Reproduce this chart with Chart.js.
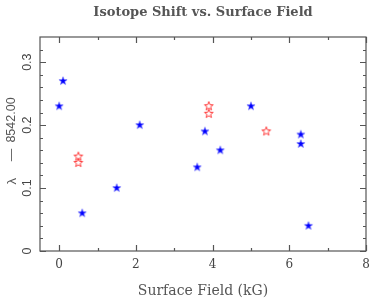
<!DOCTYPE html>
<html>
<head>
<meta charset="utf-8">
<script src="https://cdn.jsdelivr.net/npm/chart.js@4"></script>
<style>
  html, body { margin: 0; padding: 0; background: #fff; }
  #wrap { width: 371px; height: 300px; }
</style>
</head>
<body>
<div id="wrap"><canvas id="chart" width="371" height="300"></canvas></div>
<script>
// measured points, blue = filled stars, red = open stars
const blueX = [0, 0.1, 0.6, 1.5, 2.1, 3.6, 3.8, 4.2, 5.0, 6.3, 6.3, 6.5];
const blueY = [0.23, 0.27, 0.06, 0.1, 0.2, 0.133, 0.19, 0.16, 0.23, 0.185, 0.17, 0.04];
const redX = [0.5, 0.5, 3.9, 3.9, 5.4];
const redY = [0.15, 0.14, 0.23, 0.218, 0.19];

const xTicks = [0, 2, 4, 6, 8];
const xMinor = [1, 3, 5, 7];
const yTicks = [0, 0.1, 0.2, 0.3];
const yMinor = [0.02, 0.04, 0.06, 0.08, 0.12, 0.14, 0.16, 0.18, 0.22, 0.24, 0.26, 0.28, 0.32];

const axisColor = '#555';
const textColor = '#444';

function starImage(r, fill, stroke, lw) {
  const s = Math.ceil(2 * r + 2 * lw + 2);
  const c = document.createElement('canvas');
  c.width = s; c.height = s;
  const g = c.getContext('2d');
  g.beginPath();
  for (let i = 0; i < 10; i++) {
    const rad = i % 2 === 0 ? r : r * 0.42;
    const a = -Math.PI / 2 + i * Math.PI / 5;
    const px = s / 2 + rad * Math.cos(a), py = s / 2 + rad * Math.sin(a);
    if (i === 0) g.moveTo(px, py); else g.lineTo(px, py);
  }
  g.closePath();
  if (fill) { g.fillStyle = fill; g.fill(); }
  if (stroke) { g.strokeStyle = stroke; g.lineWidth = lw; g.stroke(); }
  return c;
}

const blueStar = starImage(4.3, '#0000ff', '#6a6aff', 0.6);
const redStar = starImage(4.6, null, '#ff3b3b', 1);

const frame = {
  id: 'frame',
  afterDraw(chart) {
    const ctx = chart.ctx;
    const a = chart.chartArea;
    const xs = chart.scales.x, ys = chart.scales.y;
    ctx.save();
    ctx.strokeStyle = axisColor;
    ctx.lineWidth = 1.2;
    ctx.strokeRect(a.left, a.top, a.right - a.left, a.bottom - a.top);

    ctx.beginPath();
    const tickX = (v, len) => {
      const p = Math.round(xs.getPixelForValue(v)) + 0.5;
      ctx.moveTo(p, a.bottom); ctx.lineTo(p, a.bottom - len);
      ctx.moveTo(p, a.top); ctx.lineTo(p, a.top + len);
    };
    const tickY = (v, len) => {
      const p = Math.round(ys.getPixelForValue(v)) + 0.5;
      ctx.moveTo(a.left, p); ctx.lineTo(a.left + len, p);
      ctx.moveTo(a.right, p); ctx.lineTo(a.right - len, p);
    };
    xTicks.forEach(v => tickX(v, 6));
    xMinor.forEach(v => tickX(v, 3));
    yTicks.forEach(v => tickY(v, 6));
    yMinor.forEach(v => tickY(v, 3));
    ctx.stroke();

    ctx.fillStyle = textColor;
    ctx.font = '12px "DejaVu Serif"';
    ctx.textAlign = 'center';
    ctx.textBaseline = 'middle';
    xTicks.forEach(v => ctx.fillText(String(v), xs.getPixelForValue(v), a.bottom + 14));

    ctx.font = '12.5px "Liberation Sans"';
    yTicks.forEach(v => {
      ctx.save();
      ctx.translate(a.left - 12, ys.getPixelForValue(v));
      ctx.rotate(-Math.PI / 2);
      ctx.fillText(String(v), 0, 0);
      ctx.restore();
    });

    ctx.fillStyle = '#555';
    ctx.font = 'bold 13px "DejaVu Serif"';
    ctx.fillText('Isotope Shift vs. Surface Field', (a.left + a.right) / 2, 13);
    ctx.font = '14px "DejaVu Serif"';
    ctx.fillText('Surface Field (kG)', (a.left + a.right) / 2, 291);

    // y title: lambda, dash and offset laid out with wide gaps as in the original
    ctx.save();
    ctx.translate(12, (a.top + a.bottom) / 2);
    ctx.rotate(-Math.PI / 2);
    ctx.font = '12.5px "Liberation Sans"';
    ctx.fillText('8542.00', 24, 0);
    ctx.fillText('—', -11, 0);
    ctx.font = '13.5px "Liberation Sans"';
    ctx.fillText('λ', -37, 0);
    ctx.restore();
    ctx.restore();
  }
};

const toPts = (xs, ys) => xs.map((x, i) => ({ x: x, y: ys[i] }));

new Chart(document.getElementById('chart'), {
  type: 'scatter',
  data: {
    datasets: [
      { label: 'blue', data: toPts(blueX, blueY), pointStyle: blueStar },
      { label: 'red', data: toPts(redX, redY), pointStyle: redStar }
    ]
  },
  options: {
    responsive: false,
    animation: false,
    devicePixelRatio: 1,
    layout: { padding: { top: 37, right: 5, left: 0, bottom: 0 } },
    plugins: { legend: { display: false }, title: { display: false }, tooltip: { enabled: false } },
    scales: {
      x: {
        type: 'linear', min: -0.5, max: 8,
        grid: { display: false }, border: { display: false },
        ticks: { display: false },
        afterFit: s => { s.height = 49; }
      },
      y: {
        type: 'linear', min: 0, max: 0.34,
        grid: { display: false }, border: { display: false },
        ticks: { display: false },
        afterFit: s => { s.width = 40; }
      }
    }
  },
  plugins: [frame]
});
</script>
</body>
</html>
